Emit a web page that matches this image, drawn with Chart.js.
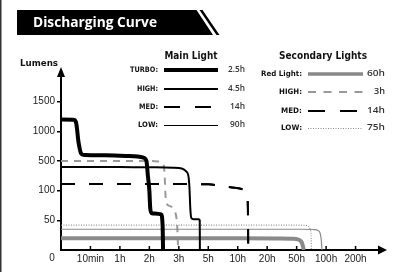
<!DOCTYPE html>
<html>
<head>
<meta charset="utf-8">
<script src="https://cdn.jsdelivr.net/npm/chart.js@4.4.1/dist/chart.umd.min.js"></script>
<style>
html,body{margin:0;padding:0;background:#fff;}
#wrap{width:395px;height:272px;position:relative;}
</style>
</head>
<body>
<div id="wrap"><canvas id="c" width="395" height="272"></canvas></div>
<script>
// ---- axis ticks (non-linear, evenly spaced) ----
const xTickHours  = [0, 1/6, 1, 2, 3, 5, 10, 20, 50, 100, 200];
const xTickLabels = ['0', '10min', '1h', '2h', '3h', '5h', '10h', '20h', '50h', '100h', '200h'];
const yTickLumens = [0, 50, 100, 500, 1000, 1500];
const yTickLabels = ['0', '50', '100', '500', '1000', '1500'];

// ---- main light series ----
const turboHours  = [0, 0.07, 0.085, 0.1, 0.115, 0.135, 0.6, 1.2, 1.6, 1.8, 1.9, 1.95, 2.0, 2.03, 2.08, 2.4, 2.45, 2.465];
const turboLumens = [1200, 1195, 1150, 800, 620, 600, 595, 585, 575, 555, 500, 300, 100, 70, 62, 60, 40, 0];
const highHours   = [0, 1, 2, 2.8, 3.2, 3.5, 3.65, 3.72, 3.78, 3.85, 4.0, 4.35, 4.42, 4.43];
const highLumens  = [420, 420, 415, 410, 400, 360, 300, 150, 70, 54, 52, 52, 50, 0];
const medHours    = [0, 3, 5, 7.5, 9.5, 11, 12.5, 13.3, 13.5, 13.55];
const medLumens   = [190, 190, 185, 160, 140, 125, 100, 85, 50, 0];
const lowHours    = [0, 60, 80, 86, 90, 92, 93];
const lowLumens   = [35, 35, 34.5, 33, 28, 15, 0];

// ---- secondary light series ----
const redHours     = [0, 10, 30, 45, 52, 56, 59, 61, 62];
const redLumens    = [20, 20, 19.5, 19, 18, 16, 12, 5, 0];
const secHighHours = [0, 1, 2.1, 2.35, 2.48, 2.52, 2.54, 2.57, 2.7, 2.85, 2.93, 2.96, 2.975];
const secHighLumens= [500, 500, 500, 490, 450, 300, 100, 80, 74, 66, 50, 25, 0];
const secMedHours  = [0, 3, 5, 7.5, 9.5, 11, 12.5, 13.3, 13.5, 13.55];
const secMedLumens = [190, 190, 185, 160, 140, 125, 100, 85, 50, 0];
const secLowHours  = [0, 50, 65, 70, 73, 74.5, 75];
const secLowLumens = [42, 42, 41.5, 40, 35, 25, 0];

// ---- legend texts ----
const mainTitle    = 'Main Light';
const mainModes    = ['TURBO:', 'HIGH:', 'MED:', 'LOW:'];
const mainRuntimes = ['2.5h', '4.5h', '14h', '90h'];
const secTitle     = 'Secondary Lights';
const secModes     = ['Red Light:', 'HIGH:', 'MED:', 'LOW:'];
const secRuntimes  = ['60h', '3h', '14h', '75h'];
const chartTitle   = 'Discharging Curve';
const yAxisTitle   = 'Lumens';

// piecewise mapping of a value onto evenly spaced tick index
function toIdx(v, br) {
  for (let i = 1; i < br.length; i++) {
    if (v <= br[i]) return (i - 1) + (v - br[i - 1]) / (br[i] - br[i - 1]);
  }
  const n = br.length - 1;
  return n + (v - br[n]) / (br[n] - br[n - 1]);
}
function pts(h, l) {
  return h.map((hv, i) => ({ x: toIdx(hv, xTickHours), y: toIdx(l[i], yTickLumens) }));
}

const styles = {
  turbo:   { color: '#000', width: 4,   dash: [] },
  high:    { color: '#000', width: 2,   dash: [] },
  med:     { color: '#000', width: 2,   dash: [14, 14] },
  low:     { color: '#8a8a8a', width: 1.2, dash: [] },
  red:     { color: '#8a8a8a', width: 4, dash: [] },
  secHigh: { color: '#9a9a9a', width: 2, dash: [7, 6] },
  secMed:  { color: '#000', width: 2,   dash: [14, 14] },
  secLow:  { color: '#777', width: 1,   dash: [1, 1.5] }
};
function ds(label, h, l, st, order) {
  return {
    label, data: pts(h, l), borderColor: st.color, borderWidth: st.width, borderDash: st.dash,
    pointRadius: 0, fill: false, cubicInterpolationMode: 'monotone', order
  };
}

const FONT_B = '"DejaVu Sans", "Open Sans", sans-serif';
const FONT_T = '"Open Sans", "DejaVu Sans", sans-serif';
const FONT_R = '"Liberation Sans", Arial, sans-serif';

function txt(ctx, s, x, y, font, color, align, w) {
  ctx.save();
  ctx.font = font; ctx.fillStyle = color; ctx.textBaseline = 'middle'; ctx.textAlign = align;
  const m = ctx.measureText(s).width;
  const sx = w ? w / m : 1;
  ctx.translate(x, y); ctx.scale(sx, 1);
  ctx.fillText(s, 0, 0);
  ctx.restore();
}
function sample(ctx, x1, x2, y, st) {
  ctx.save();
  ctx.strokeStyle = st.color; ctx.lineWidth = st.width; ctx.setLineDash(st.dash);
  const yy = (Math.round(st.width) % 2 === 1) ? y + 0.5 : y;
  ctx.beginPath(); ctx.moveTo(x1, yy); ctx.lineTo(x2, yy); ctx.stroke();
  ctx.restore();
}

const decor = {
  id: 'decor',
  beforeDraw(chart) {
    const ctx = chart.ctx;
    ctx.save();
    // left frame line
    ctx.fillStyle = '#333'; ctx.fillRect(0, 0, 1.5, 272);
    // banner
    ctx.fillStyle = '#000';
    ctx.beginPath(); ctx.moveTo(17, 10); ctx.lineTo(196.5, 10); ctx.lineTo(213, 35); ctx.lineTo(17, 35); ctx.closePath(); ctx.fill();
    ctx.beginPath(); ctx.moveTo(199.5, 10); ctx.lineTo(202.5, 10); ctx.lineTo(219.5, 35); ctx.lineTo(216.5, 35); ctx.closePath(); ctx.fill();
    ctx.restore();
    txt(ctx, chartTitle, 33, 23, 'bold 14px ' + FONT_T, '#fff', 'left', 124);
    txt(ctx, yAxisTitle, 39, 64, 'bold 9px ' + FONT_B, '#111', 'center', 38);

    // main legend
    txt(ctx, mainTitle, 191, 56, 'bold 10.5px ' + FONT_B, '#111', 'center', 53);
    const mainY = [70, 89, 107, 125];
    const mainW = [28, 21, 19, 20];
    const mainVW = [17, 17, 15, 15];
    const mainSt = [styles.turbo, styles.high, {color:'#000', width:2, dash:[16,15]}, {color:'#000', width:1, dash:[]}];
    mainModes.forEach((m, i) => {
      txt(ctx, m, 158, mainY[i], 'bold 7.5px ' + FONT_B, '#111', 'right', mainW[i]);
      sample(ctx, 164, 218, mainY[i], mainSt[i]);
      txt(ctx, mainRuntimes[i], 245, mainY[i], '600 8.5px ' + FONT_T, '#333', 'right', mainVW[i]);
    });
    // secondary legend
    txt(ctx, secTitle, 323, 56.5, 'bold 10.5px ' + FONT_B, '#111', 'center', 88);
    const secY = [74, 92, 111, 128];
    const secW = [41, 23, 21, 21];
    const secVW = [18, 11, 18, 18];
    const secSt = [{color:'#888', width:3.5, dash:[]}, {color:'#999', width:2, dash:[8,7.5]}, {color:'#000', width:2, dash:[17,15]}, {color:'#888', width:1, dash:[1,1.5]}];
    secModes.forEach((m, i) => {
      txt(ctx, m, 302, secY[i], 'bold 7.5px ' + FONT_B, '#111', 'right', secW[i]);
      sample(ctx, 308, 363, secY[i], secSt[i]);
      txt(ctx, secRuntimes[i], 385, secY[i], '600 8.5px ' + FONT_T, '#333', 'right', secVW[i]);
    });
  },
  afterDraw(chart) {
    const ctx = chart.ctx;
    const xs = chart.scales.x, ys = chart.scales.y;
    const ox = xs.left, oy = ys.bottom;
    ctx.save();
    ctx.fillStyle = '#000';
    // y arrow
    const ty = ys.top;
    ctx.beginPath(); ctx.moveTo(ox, ty - 5); ctx.lineTo(ox + 4, ty + 5); ctx.lineTo(ox - 4, ty + 5); ctx.closePath(); ctx.fill();
    // x arrow
    const rx = xs.right;
    ctx.beginPath(); ctx.moveTo(rx + 7, oy); ctx.lineTo(rx - 2, oy - 4.5); ctx.lineTo(rx - 2, oy + 4.5); ctx.closePath(); ctx.fill();
    // x tick marks above axis
    for (let i = 1; i < xTickLabels.length; i++) {
      const px = xs.getPixelForValue(i);
      ctx.fillRect(px - 0.75, oy - 4, 1.5, 4);
    }
    ctx.restore();
    // origin label
    txt(ctx, xTickLabels[0], ox - 9, oy + 8, '10px ' + FONT_R, '#222', 'center');
  }
};

const chart = new Chart(document.getElementById('c'), {
  type: 'line',
  data: {
    datasets: [
      ds('TURBO', turboHours, turboLumens, styles.turbo, 0),
      ds('HIGH', highHours, highLumens, styles.high, 0),
      ds('MED', medHours, medLumens, styles.med, 0),
      ds('Secondary MED', secMedHours, secMedLumens, styles.secMed, 0),
      ds('LOW', lowHours, lowLumens, styles.low, 1),
      ds('Red Light', redHours, redLumens, styles.red, 1),
      ds('Secondary HIGH', secHighHours, secHighLumens, styles.secHigh, 1),
      ds('Secondary LOW', secLowHours, secLowLumens, styles.secLow, 1)
    ]
  },
  options: {
    responsive: false,
    animation: false,
    devicePixelRatio: 1,
    layout: { padding: { top: 72, right: 15, left: 0, bottom: 0 } },
    plugins: { legend: { display: false }, tooltip: { enabled: false }, title: { display: false } },
    scales: {
      x: {
        type: 'linear', min: 0, max: 10.83,
        afterBuildTicks: s => { s.ticks = xTickLabels.slice(1).map((_, i) => ({ value: i + 1 })); },
        afterFit: s => { s.height = 22; },
        ticks: { autoSkip: false, maxRotation: 0, padding: 3, color: '#222',
                 font: { family: FONT_R, size: 10 },
                 callback: v => xTickLabels[Math.round(v)] },
        grid: { display: false, drawTicks: false },
        border: { display: true, color: '#000', width: 2 }
      },
      y: {
        type: 'linear', min: 0, max: 6,
        afterBuildTicks: s => { s.ticks = yTickLabels.slice(1).map((_, i) => ({ value: i + 1 })); },
        afterFit: s => { s.width = 61; },
        ticks: { autoSkip: false, padding: 2, color: '#222',
                 font: { family: FONT_R, size: 10 },
                 callback: v => yTickLabels[Math.round(v)] },
        grid: { display: true, drawOnChartArea: false, drawTicks: true, tickLength: 4, color: '#000', lineWidth: 1.5 },
        border: { display: true, color: '#000', width: 2 }
      }
    }
  },
  plugins: [decor]
});
</script>
</body>
</html>
